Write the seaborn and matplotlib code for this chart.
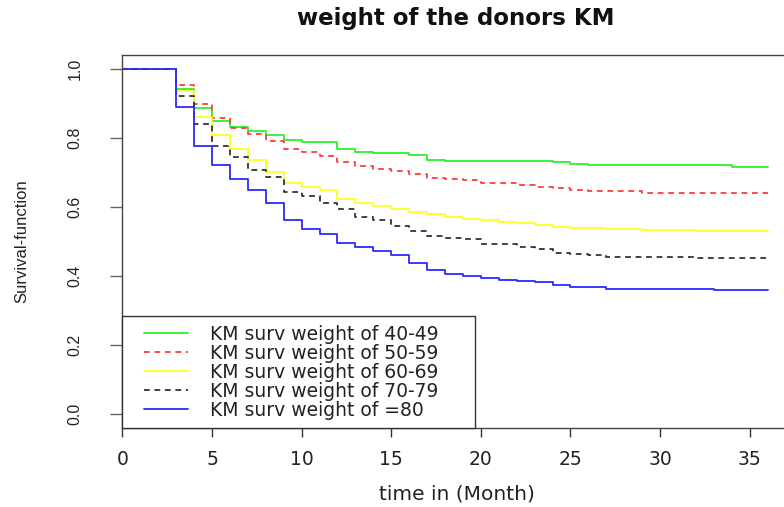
import numpy as np
import pandas as pd
import matplotlib
matplotlib.use("Agg")
import matplotlib.pyplot as plt
import seaborn as sns
from matplotlib.lines import Line2D
from matplotlib.legend_handler import HandlerLine2D

# ---------------- data ----------------
months = list(range(0, 37))

surv_40_49 = [1.0, 1.0, 1.0, 0.942, 0.888, 0.850, 0.831, 0.820, 0.810, 0.795,
              0.788, 0.788, 0.769, 0.758, 0.756, 0.756, 0.751, 0.736, 0.734, 0.734,
              0.734, 0.734, 0.734, 0.734, 0.731, 0.725, 0.721, 0.721, 0.721, 0.721,
              0.721, 0.721, 0.721, 0.721, 0.716, 0.716, 0.716]
surv_50_59 = [1.0, 1.0, 1.0, 0.955, 0.899, 0.859, 0.828, 0.811, 0.792, 0.769,
              0.758, 0.747, 0.729, 0.720, 0.710, 0.704, 0.696, 0.685, 0.680, 0.677,
              0.670, 0.670, 0.663, 0.659, 0.654, 0.649, 0.647, 0.647, 0.647, 0.640,
              0.640, 0.640, 0.640, 0.640, 0.640, 0.640, 0.640]
surv_60_69 = [1.0, 1.0, 1.0, 0.937, 0.861, 0.809, 0.768, 0.735, 0.702, 0.671,
              0.659, 0.649, 0.623, 0.611, 0.603, 0.595, 0.586, 0.580, 0.570, 0.566,
              0.561, 0.557, 0.554, 0.547, 0.543, 0.539, 0.539, 0.536, 0.536, 0.533,
              0.533, 0.533, 0.530, 0.530, 0.530, 0.530, 0.530]
surv_70_79 = [1.0, 1.0, 1.0, 0.923, 0.840, 0.778, 0.745, 0.708, 0.686, 0.644,
              0.633, 0.611, 0.594, 0.572, 0.562, 0.546, 0.530, 0.516, 0.511, 0.506,
              0.493, 0.493, 0.485, 0.478, 0.466, 0.463, 0.460, 0.454, 0.454, 0.454,
              0.454, 0.454, 0.451, 0.451, 0.451, 0.451, 0.451]
surv_80 = [1.0, 1.0, 1.0, 0.891, 0.777, 0.721, 0.681, 0.650, 0.612, 0.562,
           0.536, 0.523, 0.497, 0.484, 0.473, 0.461, 0.437, 0.417, 0.406, 0.400,
           0.395, 0.388, 0.386, 0.382, 0.374, 0.367, 0.367, 0.363, 0.363, 0.361,
           0.361, 0.361, 0.361, 0.358, 0.358, 0.358, 0.358]

group_labels = ["KM surv weight of 40-49", "KM surv weight of 50-59",
                "KM surv weight of 60-69", "KM surv weight of 70-79",
                "KM surv weight of =80"]
group_colors = ["#2cf02c", "#ff3b3b", "#ffff22", "#333333", "#2a2aff"]
group_dashed = [False, True, False, True, False]

x_ticks = [0, 5, 10, 15, 20, 25, 30, 35]
y_ticks = [0.0, 0.2, 0.4, 0.6, 0.8, 1.0]
y_tick_labels = ["0.0", "0.2", "0.4", "0.6", "0.8", "1.0"]

title_text = "weight of the donors KM"
x_label = "time in (Month)"
y_label = "Survival-function"

# ---------------- table ----------------
series = [surv_40_49, surv_50_59, surv_60_69, surv_70_79, surv_80]
frames = []
for lab, vals in zip(group_labels, series):
    frames.append(pd.DataFrame({"time": months, "surv": vals, "group": lab}))
df = pd.concat(frames, ignore_index=True)

# ---------------- style ----------------
sns.set_style("ticks")
plt.rcParams["font.family"] = ["DejaVu Sans"]

W, H = 784, 507
fig = plt.figure(figsize=(W / 100, H / 100), dpi=100)
left_px, right_px, top_px, bottom_px = 122.4, 790.0, 55.0, 428.0
ax = fig.add_axes([left_px / W, 1 - bottom_px / H,
                   (right_px - left_px) / W, (bottom_px - top_px) / H])

palette = dict(zip(group_labels, group_colors))
dashes = {lab: ((3.2, 2.6) if d else "") for lab, d in zip(group_labels, group_dashed)}

sns.lineplot(data=df, x="time", y="surv", hue="group", style="group",
             hue_order=group_labels, style_order=group_labels,
             palette=palette, dashes=dashes, estimator=None, sort=True,
             drawstyle="steps-post", linewidth=1.3, ax=ax)

ax.set_xlim(0, 37.25)
ax.set_ylim(-0.0406, 1.0406)
ax.set_xticks(x_ticks)
ax.set_xticklabels([str(v) for v in x_ticks])
ax.set_yticks(y_ticks)
ax.set_yticklabels(y_tick_labels)
ax.set_xlabel("")
ax.set_ylabel("")

for s in ["top", "left", "bottom", "right"]:
    ax.spines[s].set_visible(True)
    ax.spines[s].set_color("#444444")
    ax.spines[s].set_linewidth(1.0)

ax.tick_params(axis="x", direction="out", length=6.5, width=1.0, color="#333333",
               pad=9, labelsize=13.5, labelcolor="#222222")
ax.tick_params(axis="y", direction="out", length=8.6, width=1.0, color="#666666",
               pad=20, labelsize=11.5, labelcolor="#222222")
narrow = ["Liberation Sans", "DejaVu Sans"]
for t in ax.get_yticklabels():
    t.set_rotation(90)
    t.set_va("center")
    t.set_ha("right")
    t.set_family(narrow)

fig.text(456 / W, 1 - 18 / H, title_text, ha="center", va="center",
         fontsize=16.5, fontweight="bold", color="#111111")
fig.text(457 / W, 1 - 494 / H, x_label, ha="center", va="center",
         fontsize=14.5, color="#222222")
fig.text(22 / W, 1 - 241 / H, y_label, ha="center", va="center", rotation=90,
         fontsize=12, color="#222222", family=narrow)

handles, labels = ax.get_legend_handles_labels()
fs = 13.5
f_px = fs * 100 / 72
bp = 0.45
xpad = (22 - bp * f_px) / f_px
hl = (189 - 123 - bp * f_px) / f_px
htp = 22 / f_px
leg_w = (475 - left_px) / (right_px - left_px)
leg = ax.legend(handles, labels, loc="lower left", bbox_to_anchor=(0, 0, leg_w, 0.3),
                mode="expand",
                borderaxespad=0, fancybox=False, framealpha=1, edgecolor="#333333",
                fontsize=fs, borderpad=bp, handlelength=hl, handletextpad=htp,
                labelspacing=0.0,
                handler_map={Line2D: HandlerLine2D(xpad=xpad)})
leg.get_frame().set_linewidth(1.0)
for t in leg.get_texts():
    t.set_color("#222222")

fig.savefig("out.png", dpi=100)
